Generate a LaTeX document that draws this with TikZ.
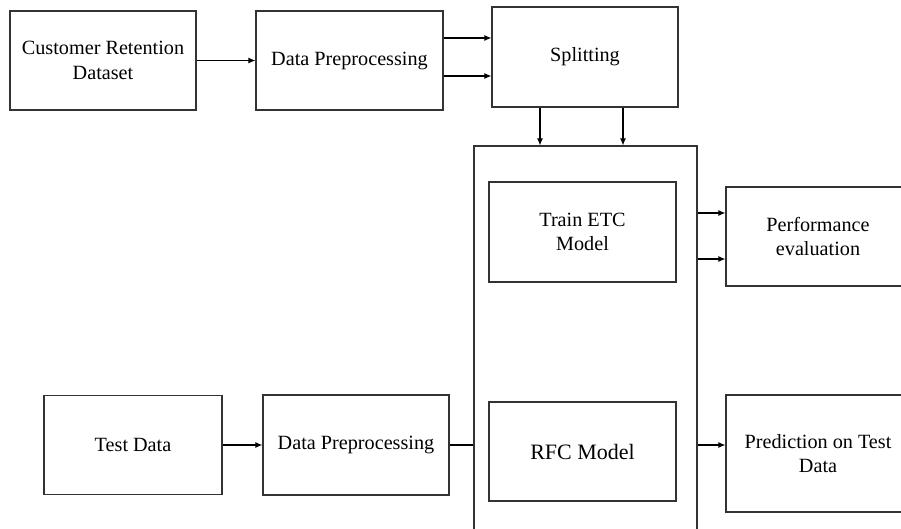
\documentclass[tikz,border=0pt]{standalone}
\usepackage{fontspec}
\setmainfont{Liberation Serif}
\usetikzlibrary{arrows.meta}
\begin{document}
\begin{tikzpicture}[x=0.02cm, y=-0.02cm,
    blk/.style={draw=black!80, line width=0.7pt, align=center, inner sep=0pt,
      font=\fontsize{11.5}{14}\selectfont},
    arr/.style={-{Latex[length=4pt,width=3.4pt]}, line width=0.6pt}]
    \useasboundingbox (0, 0) rectangle (901, 528);
    \node[blk, minimum width=37.2mm, minimum height=19.8mm] (crd) at (103, 60.5) {Customer Retention\\Dataset};
    \node[blk, minimum width=37.4mm, minimum height=19.8mm] (dp1) at (349.5, 60.5) {Data Preprocessing};
    \node[blk, minimum width=37.2mm, minimum height=20mm] (split) at (585, 57) {Splitting};
    \node[blk, minimum width=44.6mm, minimum height=80mm] (box) at (585.5, 346) {};
    \node[blk, minimum width=37.4mm, minimum height=20mm] (train) at (582.5, 232) {Train ETC\\Model};
    \node[blk, minimum width=36.8mm, minimum height=19.8mm] (perf) at (818, 236.5) {Performance\\evaluation};
    \node[blk, minimum width=35.6mm, minimum height=19.8mm] (test) at (133, 445) {Test Data};
    \node[blk, minimum width=37.2mm, minimum height=20mm] (dp2) at (356, 445) {Data Preprocessing};
    \node[blk, minimum width=37.4mm, minimum height=19.8mm, font=\fontsize{12.5}{15}\selectfont] (rfc) at (582.5, 451.5) {RFC Model};
    \node[blk, minimum width=36.8mm, minimum height=23.4mm] (pred) at (818, 453.5) {Prediction on Test\\Data};
    \draw[arr] (crd) -- (dp1);
    \draw[arr] (dp1.east |- 0, 38) -- (split.west |- 0, 38);
    \draw[arr] (dp1.east |- 0, 76) -- (split.west |- 0, 76);
    \draw[arr] (split.south -| 540, 0) -- (box.north -| 540, 0);
    \draw[arr] (split.south -| 623, 0) -- (box.north -| 623, 0);
    \draw[arr] (box.east |- 0, 213) -- (perf.west |- 0, 213);
    \draw[arr] (box.east |- 0, 259) -- (perf.west |- 0, 259);
    \draw[arr] (test) -- (dp2);
    \draw[line width=0.6pt] (dp2.east) -- (box.west |- dp2.east);
    \draw[arr] (box.east |- 0, 445) -- (pred.west |- 0, 445);
  \end{tikzpicture}
\end{document}
